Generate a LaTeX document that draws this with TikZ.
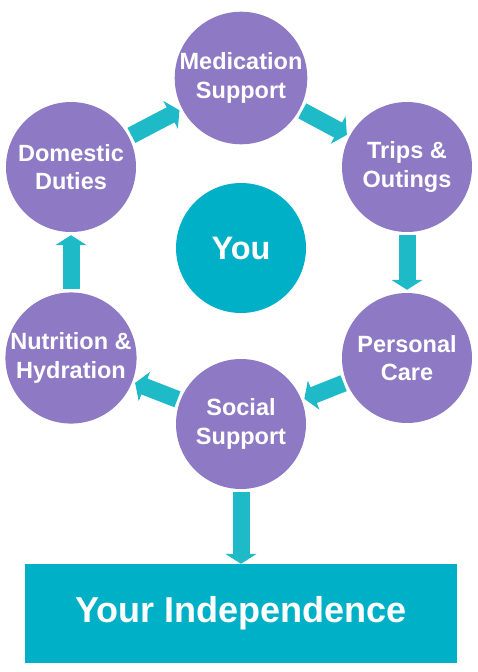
\documentclass[tikz,border=0pt]{standalone}
\usepackage{fontspec}
\setmainfont{Liberation Sans}
\usepackage{tikz}
\usetikzlibrary{arrows.meta, positioning}
\definecolor{circlepurple}{RGB}{142,122,196}
\definecolor{youteal}{RGB}{0,176,198}
\definecolor{arrowteal}{RGB}{30,186,200}
\tikzset{
  service/.style={
    circle, minimum size=130pt, inner sep=0pt,
    fill=circlepurple, text=white, align=center,
    font=\fontsize{23.5}{28.5}\selectfont\bfseries
  },
  centre/.style={
    circle, minimum size=130pt, inner sep=0pt,
    fill=youteal, text=white,
    font=\fontsize{32.5}{36}\selectfont\bfseries
  },
  goal/.style={
    rectangle, minimum width=432pt, minimum height=99pt,
    fill=youteal, text=white,
    font=\fontsize{36}{40}\selectfont\bfseries
  },
  blockarrow/.style={-{Triangle[width=31pt, length=10pt]}, line width=17pt,
    color=arrowteal, shorten <=3pt, shorten >=3pt},
}
\begin{document}
\begin{tikzpicture}[x=1pt, y=-1pt]
  \useasboundingbox (0,0) rectangle (478,672);

  % Centre
  \node[centre] (you) at (241,248) {You};

  % Ring of services
  \node[service] (medication) at (241,78)  {Medication\\Support};
  \node[service] (trips)      at (407,167) {Trips \&\\Outings};
  \node[service] (personal)   at (407,358) {Personal\\Care};
  \node[service] (social)     at (241,424) {Social\\Support};
  \node[service] (nutrition)  at (71,358)  {Nutrition \&\\Hydration};
  \node[service] (domestic)   at (71,167)  {Domestic\\Duties};

  % Outcome
  \node[goal] (independence) at (241,613.5) {Your Independence};

  % Ring arrows
  \draw[blockarrow] (domestic)   -- (medication);
  \draw[blockarrow] (medication) -- (trips);
  \draw[blockarrow] (trips)      -- (personal);
  \draw[blockarrow] (personal)   -- (social);
  \draw[blockarrow] (social)     -- (nutrition);
  \draw[blockarrow] (nutrition)  -- (domestic);

  % Down to the outcome
  \draw[blockarrow, shorten >=0pt] (social) -- (independence);

\end{tikzpicture}
\end{document}
